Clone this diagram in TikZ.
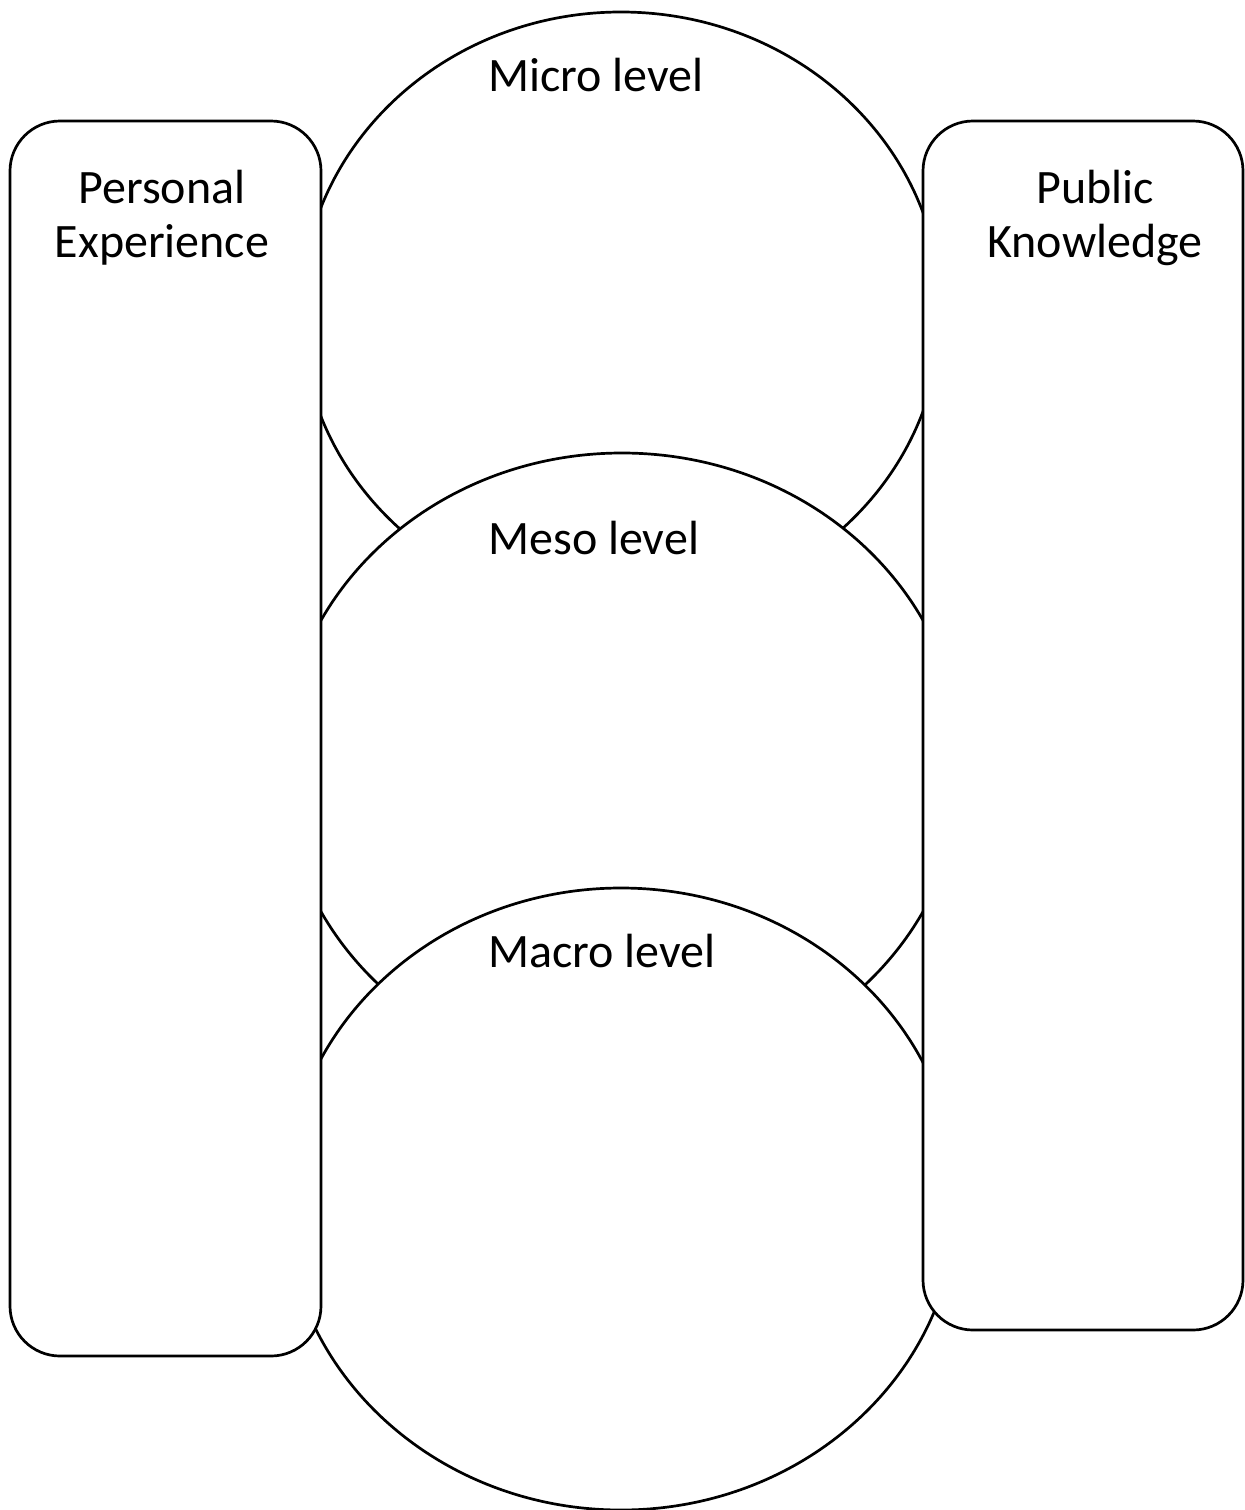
\documentclass[tikz,border=0pt]{standalone}
\usepackage{fontspec}
\setmainfont{Carlito}
\usetikzlibrary{shapes.geometric}
\tikzset{
  lvl/.style={ellipse, draw=black, fill=white, line width=1.35pt, inner sep=0pt},
  side/.style={rectangle, draw=black, fill=white, line width=1.35pt, rounded corners=25pt, inner sep=0pt},
  lbl/.style={font=\fontsize{24pt}{27pt}\selectfont, inner sep=0pt, align=center},
}
\begin{document}
\begin{tikzpicture}[x=0.5pt, y=-0.5pt]
\useasboundingbox (0,0) rectangle (1244,1510);
\node[lvl, minimum width=320pt, minimum height=300pt] (micro) at (621,312) {};
\node[lvl, minimum width=340pt, minimum height=313pt] (meso) at (622,766) {};
\node[lvl, minimum width=336pt, minimum height=311pt] (macro) at (621,1199) {};
\node[side, minimum width=155.5pt, minimum height=617.5pt] (pers) at (165.5,738.5) {};
\node[side, minimum width=160pt, minimum height=604.5pt] (pub) at (1083,725.5) {};
\node[lbl, anchor=base west] (tmicro) at (488,91) {Micro level};
\node[lbl, anchor=base west] (tmeso) at (488,554) {Meso level};
\node[lbl, anchor=base west] (tmacro) at (488,967) {Macro level};
\node[lbl, anchor=base] (tpers1) at (162,203) {Personal};
\node[lbl, anchor=base] (tpers2) at (162,257) {Experience};
\node[lbl, anchor=base] (tpub1) at (1095,203) {Public};
\node[lbl, anchor=base] (tpub2) at (1095,257) {Knowledge};
\end{tikzpicture}
\end{document}
